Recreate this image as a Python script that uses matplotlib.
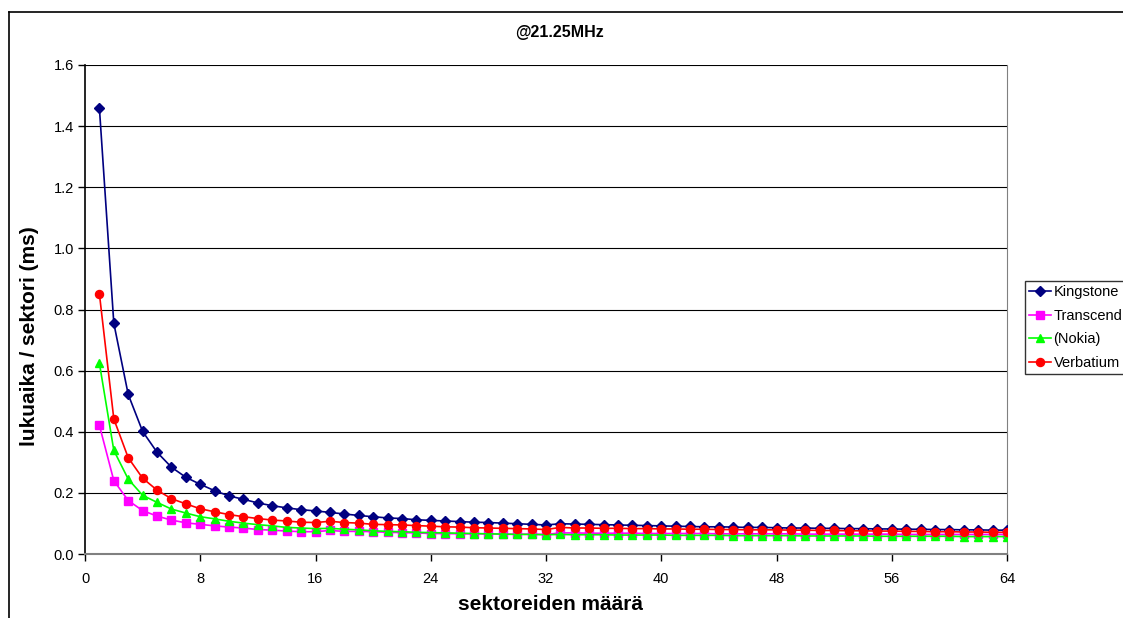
import numpy as np
import matplotlib
matplotlib.use("Agg")
import matplotlib.pyplot as plt
from matplotlib.lines import Line2D

plt.rcParams['font.family'] = ['Liberation Sans', 'DejaVu Sans']

sectors = list(range(1, 65))

kingstone = [1.459, 0.755, 0.522, 0.401, 0.333, 0.284, 0.251, 0.228, 0.207, 0.190,
             0.179, 0.167, 0.158, 0.151, 0.145, 0.141, 0.136, 0.131, 0.126, 0.122,
             0.118, 0.116, 0.112, 0.110, 0.108, 0.106, 0.104, 0.103, 0.101, 0.099,
             0.097, 0.095, 0.099, 0.098, 0.097, 0.096, 0.095, 0.094, 0.093, 0.092,
             0.091, 0.090, 0.089, 0.089, 0.088, 0.087, 0.087, 0.086, 0.085, 0.085,
             0.084, 0.084, 0.083, 0.083, 0.082, 0.082, 0.081, 0.081, 0.080, 0.080,
             0.079, 0.079, 0.078, 0.078]

transcend = [0.421, 0.240, 0.175, 0.142, 0.124, 0.111, 0.102, 0.097, 0.092, 0.088,
             0.085, 0.080, 0.078, 0.075, 0.073, 0.073, 0.077, 0.074, 0.074, 0.073,
             0.071, 0.070, 0.069, 0.067, 0.067, 0.066, 0.066, 0.066, 0.065, 0.065,
             0.065, 0.064, 0.069, 0.069, 0.068, 0.068, 0.068, 0.068, 0.067, 0.067,
             0.067, 0.067, 0.067, 0.066, 0.066, 0.066, 0.066, 0.066, 0.066, 0.065,
             0.065, 0.065, 0.065, 0.065, 0.065, 0.065, 0.064, 0.064, 0.064, 0.064,
             0.064, 0.064, 0.064, 0.064]

nokia = [0.624, 0.339, 0.245, 0.192, 0.169, 0.147, 0.134, 0.122, 0.115, 0.107,
         0.101, 0.096, 0.092, 0.087, 0.085, 0.083, 0.084, 0.081, 0.079, 0.076,
         0.074, 0.073, 0.071, 0.070, 0.069, 0.068, 0.067, 0.066, 0.065, 0.064,
         0.064, 0.063, 0.064, 0.063, 0.063, 0.063, 0.062, 0.062, 0.062, 0.062,
         0.061, 0.061, 0.061, 0.061, 0.060, 0.060, 0.060, 0.060, 0.060, 0.059,
         0.059, 0.059, 0.059, 0.059, 0.058, 0.058, 0.058, 0.058, 0.058, 0.058,
         0.057, 0.057, 0.057, 0.057]

verbatium = [0.851, 0.442, 0.315, 0.248, 0.209, 0.181, 0.164, 0.148, 0.138, 0.129,
             0.122, 0.116, 0.111, 0.108, 0.104, 0.103, 0.107, 0.103, 0.101, 0.097,
             0.096, 0.095, 0.093, 0.091, 0.089, 0.088, 0.086, 0.085, 0.084, 0.083,
             0.082, 0.080, 0.087, 0.085, 0.085, 0.084, 0.084, 0.083, 0.083, 0.082,
             0.082, 0.081, 0.081, 0.080, 0.080, 0.079, 0.079, 0.079, 0.078, 0.078,
             0.077, 0.077, 0.076, 0.076, 0.075, 0.075, 0.074, 0.074, 0.073, 0.073,
             0.072, 0.072, 0.071, 0.071]

labels = ['Kingstone', 'Transcend', '(Nokia)', 'Verbatium']
colors = ['#000080', '#FF00FF', '#00FF00', '#FF0000']
markers = ['D', 's', '^', 'o']
msizes = [4.8, 5.2, 5.8, 5.8]

fig = plt.figure(figsize=(11.23, 6.18), dpi=100)
ax = fig.add_axes([85/1123, 1-554/618, (1007-85)/1123, (554-65)/618])

# outer chart frame (cut at right and bottom)
fig.add_artist(Line2D([9/1123, 9/1123], [0, 1-12/618], color='black', lw=1.2,
                      transform=fig.transFigure))
fig.add_artist(Line2D([9/1123, 1], [1-12/618, 1-12/618], color='black', lw=1.2,
                      transform=fig.transFigure))

series = [kingstone, transcend, nokia, verbatium]
handles = []
for vals, lab, c, m, ms in zip(series, labels, colors, markers, msizes):
    h, = ax.plot(sectors, vals, color=c, marker=m, markersize=ms, lw=1.2,
                 label=lab, zorder=3)
    handles.append(h)

ax.set_xlim(0, 64)
ax.set_ylim(0, 1.6)
ax.set_xticks(range(0, 65, 8))
ax.set_yticks(np.arange(0, 1.61, 0.2))
ax.set_yticklabels([f'{v:.1f}' for v in np.arange(0, 1.61, 0.2)])
ax.yaxis.grid(True, color='black', lw=0.8)
ax.set_axisbelow(True)
ax.tick_params(direction='out', length=5, width=1, labelsize=10.5, colors='black')
ax.tick_params(axis='x', pad=8)
ax.tick_params(axis='y', pad=3)

ax.spines['top'].set_visible(False)
ax.spines['right'].set_color('#808080')
ax.spines['left'].set_linewidth(1.2)
ax.spines['bottom'].set_color('#808080')
ax.spines['bottom'].set_linewidth(1.5)

fig.text(560/1123, 1-32/618, '@21.25MHz', ha='center', va='center',
         fontsize=11.5, fontweight='bold')
fig.text(550/1123, 1-605/618, 'sektoreiden määrä', ha='center', va='center',
         fontsize=15, fontweight='bold')
fig.text(30/1123, 1-336/618, 'lukuaika / sektori (ms)', ha='center', va='center',
         fontsize=15, fontweight='bold', rotation=90)

leg = fig.legend(handles, labels, loc='upper left',
                 bbox_to_anchor=(1025/1123, 1-281/618),
                 fontsize=10.5, frameon=True, fancybox=False,
                 handlelength=1.5, handletextpad=0.15, borderpad=0.3,
                 labelspacing=0.65, borderaxespad=0)
leg.get_frame().set_edgecolor('black')
leg.get_frame().set_linewidth(1.0)

fig.savefig('out.png', dpi=100)
